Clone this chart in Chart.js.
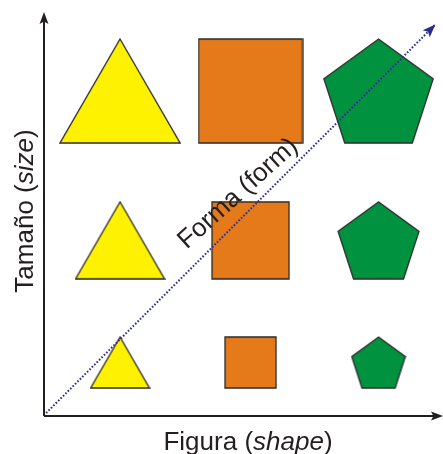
<!DOCTYPE html>
<html>
<head>
<meta charset="utf-8">
<script src="https://cdn.jsdelivr.net/npm/chart.js@4.4.0/dist/chart.umd.min.js"></script>
<style>
  html, body { margin: 0; padding: 0; background: #fff; }
  #wrap { width: 443px; height: 454px; }
</style>
</head>
<body>
<div id="wrap"><canvas id="shapesChart" width="443" height="454"></canvas></div>
<script>
// Data: columns are the shape, rows are the size level
const shapes = ['Triángulo', 'Cuadrado', 'Pentágono'];
const shapeX = [1, 2.01, 3];
const sizes = ['grande', 'mediano', 'pequeño'];
const sizeY = [3, 1.9, 1];
// diagonal "Forma (form)" arrow, from origin to tip
const formaX = [0.41, 3.44];
const formaY = [0.61, 3.49];

// Style
const fills = ['#FFF200', '#E57A1A', '#00923F'];
const rowHeight = [104, 77, 51];
const axisColor = '#231F20';
const formaColor = '#2E2A8C';
const FONT = '"Liberation Sans", Arial, sans-serif';

// builds a canvas sprite used as pointStyle
function makeSprite(kind, h, fill) {
    let w;
    if (kind === 0) w = h * 2 / Math.sqrt(3);
    else if (kind === 1) w = h;
    else w = h / (1 + Math.cos(Math.PI / 5)) * 2 * Math.sin(2 * Math.PI / 5);
    const c = document.createElement('canvas');
    c.width = Math.round(w) + 2;
    c.height = Math.round(h) + 2;
    const g = c.getContext('2d');
    const ox = (c.width - w) / 2, oy = (c.height - h) / 2;
    g.beginPath();
    if (kind === 0) {
        g.moveTo(ox + w / 2, oy);
        g.lineTo(ox + w, oy + h);
        g.lineTo(ox, oy + h);
    } else if (kind === 1) {
        g.rect(ox, oy, w, h);
    } else {
        const R = h / (1 + Math.cos(Math.PI / 5));
        const cx = ox + w / 2, cy = oy + R;
        for (let i = 0; i < 5; i++) {
            const a = -Math.PI / 2 + i * 2 * Math.PI / 5;
            g.lineTo(cx + R * Math.cos(a), cy + R * Math.sin(a));
        }
    }
    g.closePath();
    g.fillStyle = fill;
    g.fill();
    g.lineWidth = 1.3;
    g.strokeStyle = '#2a2a2a';
    g.stroke();
    return c;
}

const sprites = shapes.map((s, k) => rowHeight.map(h => makeSprite(k, h, fills[k])));

function mixedText(ctx, parts, size) {
    let total = 0;
    parts.forEach(p => {
        ctx.font = (p[1] ? 'italic ' : '') + size + 'px ' + FONT;
        total += ctx.measureText(p[0]).width;
    });
    let x = -total / 2;
    parts.forEach(p => {
        ctx.font = (p[1] ? 'italic ' : '') + size + 'px ' + FONT;
        ctx.fillText(p[0], x, 0);
        x += ctx.measureText(p[0]).width;
    });
}

function head(ctx, x, y, ang, len, wid, color) {
    ctx.save();
    ctx.translate(x, y);
    ctx.rotate(ang);
    ctx.beginPath();
    ctx.moveTo(0, 0);
    ctx.lineTo(-len, -wid / 2);
    ctx.lineTo(-len * 0.8, 0);
    ctx.lineTo(-len, wid / 2);
    ctx.closePath();
    ctx.fillStyle = color;
    ctx.fill();
    ctx.restore();
}

const decor = {
    id: 'decor',
    afterDatasetsDraw(chart) {
        const ctx = chart.ctx;
        const a = chart.chartArea;
        ctx.save();

        // axes with arrows
        ctx.strokeStyle = axisColor;
        ctx.lineWidth = 2;
        ctx.beginPath();
        ctx.moveTo(a.left, a.bottom);
        ctx.lineTo(a.left, a.top + 6);
        ctx.moveTo(a.left, a.bottom);
        ctx.lineTo(a.right - 6, a.bottom);
        ctx.stroke();
        head(ctx, a.left, a.top, -Math.PI / 2, 12, 9, axisColor);
        head(ctx, a.right + 1, a.bottom, 0, 12, 9, axisColor);

        // arrow tip of the forma line
        const pts = chart.getDatasetMeta(0).data;
        const p0 = pts[0], p1 = pts[pts.length - 1];
        const ang = Math.atan2(p1.y - p0.y, p1.x - p0.x);
        head(ctx, p1.x, p1.y, ang, 13, 10, formaColor);

        // labels
        ctx.fillStyle = '#231F20';
        ctx.textBaseline = 'alphabetic';
        ctx.save();
        ctx.translate(248, 450);
        mixedText(ctx, [['Figura (', false], ['shape', true], [')', false]], 26);
        ctx.restore();

        ctx.save();
        ctx.translate(33, 211);
        ctx.rotate(-Math.PI / 2);
        mixedText(ctx, [['Tamaño (', false], ['size', true], [')', false]], 26);
        ctx.restore();

        ctx.save();
        ctx.translate(243, 199);
        ctx.rotate(ang + 0.05);
        mixedText(ctx, [['Forma (form)', false]], 26);
        ctx.restore();

        ctx.restore();
    }
};

const datasets = [{
    type: 'line',
    label: 'Forma',
    data: formaX.map((x, i) => ({ x: x, y: formaY[i] })),
    borderColor: formaColor,
    borderWidth: 2,
    borderDash: [1.6, 1.8],
    pointRadius: 0,
    clip: false
}];
shapes.forEach((s, k) => {
    datasets.push({
        type: 'scatter',
        label: s,
        data: sizeY.map(y => ({ x: shapeX[k], y: y })),
        pointStyle: sprites[k],
        pointRadius: 3,
        clip: false
    });
});

new Chart(document.getElementById('shapesChart'), {
    type: 'scatter',
    data: { datasets: datasets },
    options: {
        responsive: false,
        animation: false,
        events: [],
        layout: { autoPadding: false, padding: { left: 44, right: 1, top: 12, bottom: 38 } },
        scales: {
            x: { type: 'linear', min: 0.412, max: 3.491, display: false },
            y: { type: 'linear', min: 0.606, max: 3.582, display: false }
        },
        plugins: {
            legend: { display: false },
            tooltip: { enabled: false }
        }
    },
    plugins: [decor]
});
</script>
</body>
</html>
